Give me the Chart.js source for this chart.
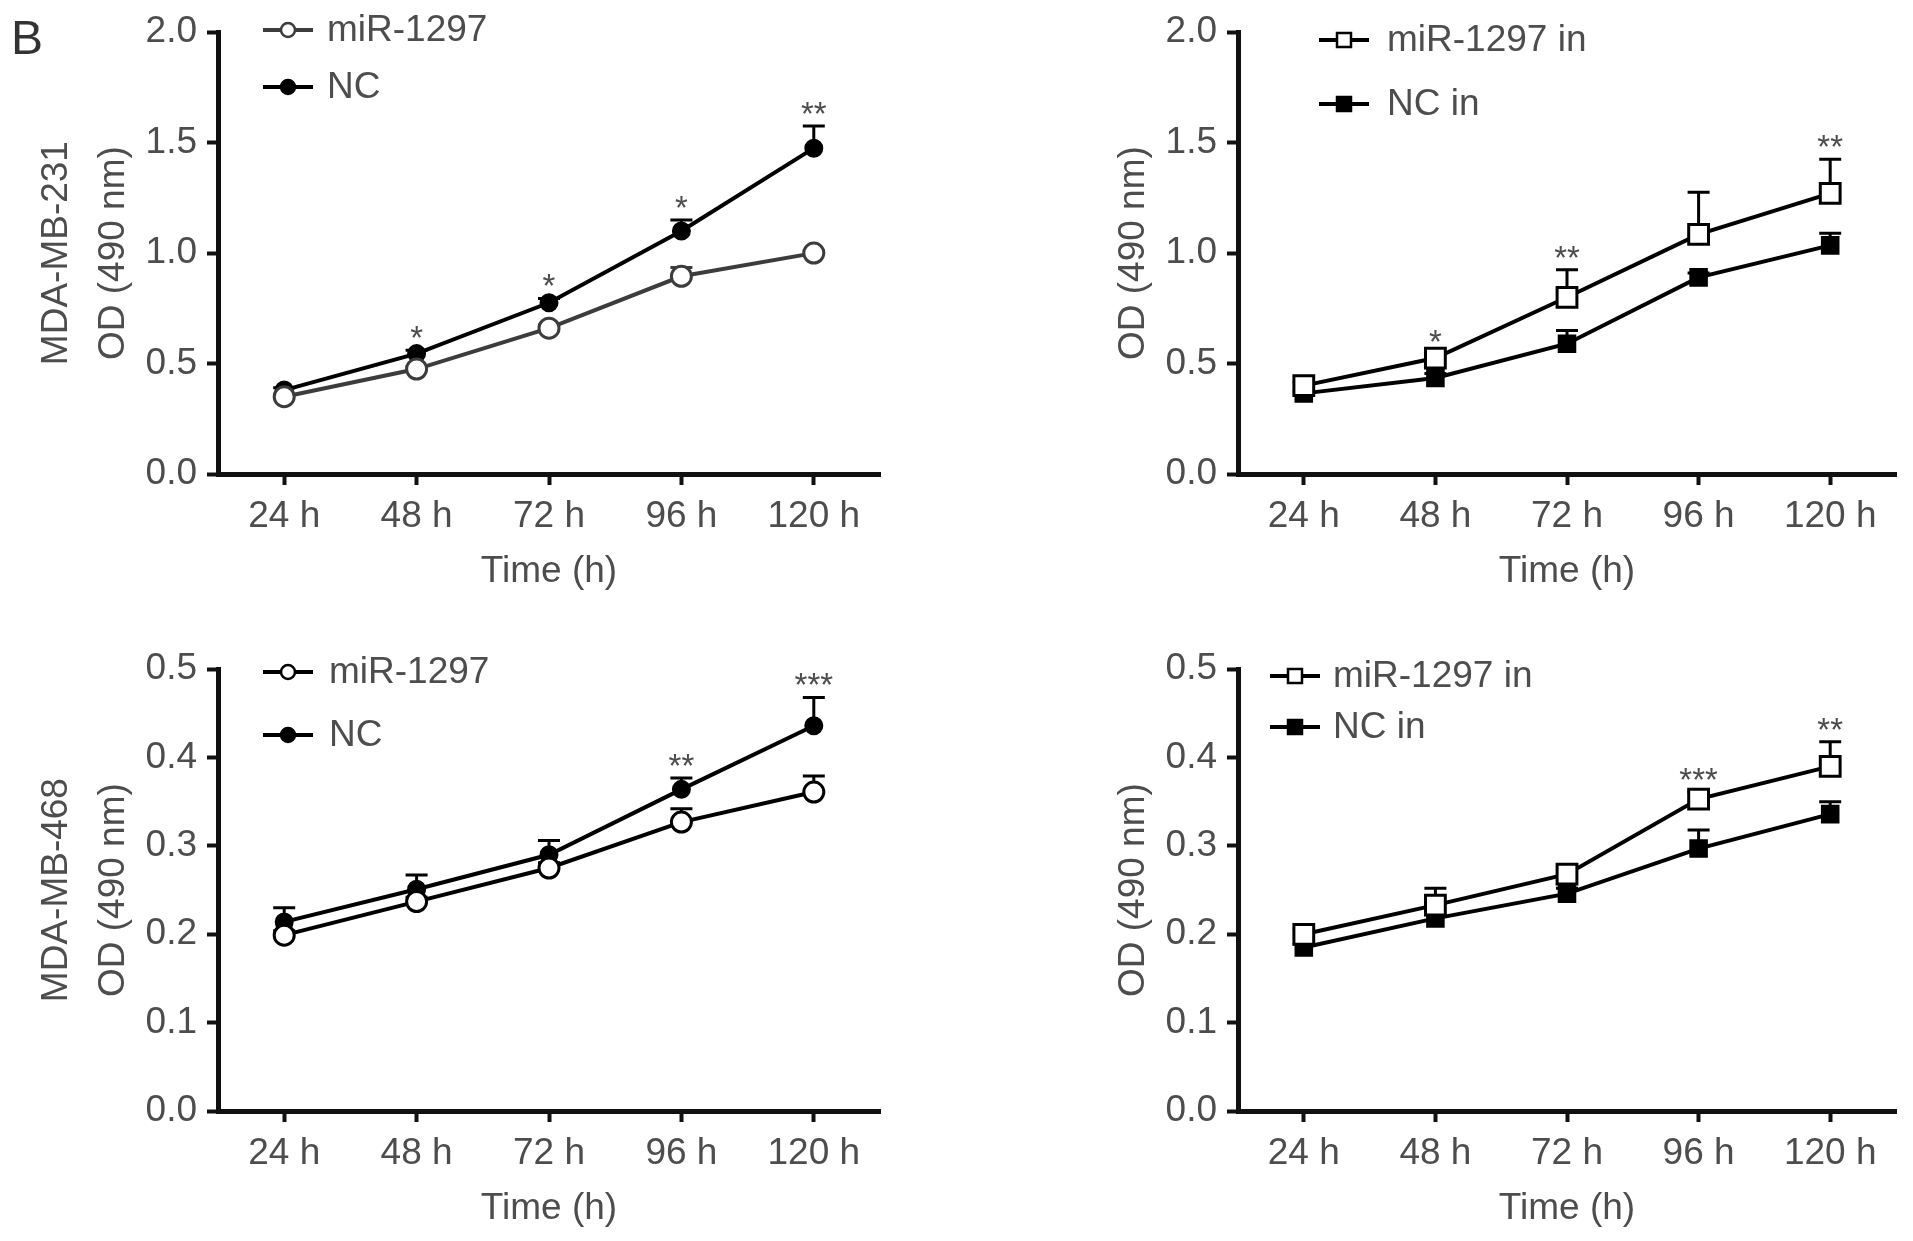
<!DOCTYPE html>
<html>
<head>
<meta charset="utf-8">
<script src="https://cdn.jsdelivr.net/npm/chart.js@4.4.1/dist/chart.umd.min.js"></script>
<style>
  html, body { margin: 0; padding: 0; background: #fff; overflow: hidden; width: 1913px; height: 1241px; }
  .panel { position: absolute; width: 893px; height: 604px; }
</style>
</head>
<body>
<div class="panel" style="left:0;top:0"><canvas id="c231" width="893" height="604"></canvas></div>
<div class="panel" style="left:1020px;top:0"><canvas id="c231in" width="893" height="604"></canvas></div>
<div class="panel" style="left:0;top:637px"><canvas id="c468" width="893" height="604"></canvas></div>
<div class="panel" style="left:1020px;top:637px"><canvas id="c468in" width="893" height="604"></canvas></div>
<script>
/* ── data ── */
const timeLabels = ['24 h', '48 h', '72 h', '96 h', '120 h'];

// MDA-MB-231, mimic vs NC
const mb231Mir    = [0.35, 0.475, 0.66, 0.895, 1.0];
const mb231MirErr = [0.01, 0.012, 0.015, 0.04, 0.012];
const mb231Nc     = [0.38, 0.545, 0.775, 1.10, 1.475];
const mb231NcErr  = [0.01, 0.015, 0.02, 0.05, 0.10];
const mb231Sig    = ['', '*', '*', '*', '**'];

// MDA-MB-231, inhibitor vs NC inhibitor
const mb231MirIn    = [0.40, 0.525, 0.80, 1.085, 1.27];
const mb231MirInErr = [0.015, 0.02, 0.125, 0.19, 0.155];
const mb231NcIn     = [0.365, 0.435, 0.59, 0.89, 1.035];
const mb231NcInErr  = [0.01, 0.02, 0.06, 0.02, 0.055];
const mb231InSig    = ['', '*', '**', '', '**'];

// MDA-MB-468, mimic vs NC
const mb468Mir    = [0.199, 0.237, 0.275, 0.327, 0.361];
const mb468MirErr = [0.005, 0.005, 0.006, 0.015, 0.018];
const mb468Nc     = [0.214, 0.251, 0.290, 0.364, 0.436];
const mb468NcErr  = [0.016, 0.016, 0.016, 0.013, 0.032];
const mb468Sig    = ['', '', '', '**', '***'];

// MDA-MB-468, inhibitor vs NC inhibitor
const mb468MirIn    = [0.200, 0.233, 0.268, 0.353, 0.390];
const mb468MirInErr = [0.006, 0.019, 0.007, 0.008, 0.028];
const mb468NcIn     = [0.185, 0.218, 0.246, 0.297, 0.336];
const mb468NcInErr  = [0.004, 0.005, 0.006, 0.021, 0.014];
const mb468InSig    = ['', '', '', '***', '**'];

const yTicksTop = [0, 0.5, 1.0, 1.5, 2.0];
const yTicksBottom = [0, 0.1, 0.2, 0.3, 0.4, 0.5];

/* ── styling ── */
const FONT = "'Liberation Sans', Arial, sans-serif";
const TEXT = '#4d4d4d';
const INK = '#111';
const FS = 37;

function series(label, data, err, style, color) {
  const open = style.indexOf('open') === 0;
  const square = style.indexOf('Square') > 0;
  const r = square ? (open ? 14 : 11) : (open ? 10 : 8);
  return {
    label, data, err,
    legendStyle: style,
    borderColor: color,
    borderWidth: 4,
    tension: 0,
    clip: false,
    pointStyle: square ? 'rect' : 'circle',
    pointRadius: r,
    pointHoverRadius: r,
    pointBorderWidth: 3,
    pointBorderColor: color,
    pointBackgroundColor: open ? '#fff' : color,
  };
}

function drawMarker(ctx, style, x, y, color) {
  ctx.save();
  ctx.lineWidth = 2.5;
  ctx.strokeStyle = color;
  ctx.fillStyle = style.indexOf('open') === 0 ? '#fff' : color;
  ctx.beginPath();
  if (style.indexOf('Square') > 0) ctx.rect(x - 7, y - 7, 14, 14);
  else ctx.arc(x, y, 7, 0, Math.PI * 2);
  ctx.fill();
  ctx.stroke();
  ctx.restore();
}

function decoPlugin(panel) {
  return {
    id: 'deco',
    beforeDatasetsDraw(chart) {
      const ctx = chart.ctx, ys = chart.scales.y;
      ctx.save();
      chart.data.datasets.forEach((ds, i) => {
        const meta = chart.getDatasetMeta(i);
        ctx.strokeStyle = ds.borderColor;
        ctx.lineWidth = 3;
        ds.data.forEach((v, j) => {
          const x = meta.data[j].x;
          const y0 = ys.getPixelForValue(v);
          const y1 = ys.getPixelForValue(v + ds.err[j]);
          ctx.beginPath();
          ctx.moveTo(x, y0); ctx.lineTo(x, y1);
          ctx.moveTo(x - 11, y1); ctx.lineTo(x + 11, y1);
          ctx.stroke();
        });
      });
      ctx.restore();
    },
    afterDraw(chart) {
      const ctx = chart.ctx, ys = chart.scales.y;
      ctx.save();
      // significance stars
      ctx.font = '33px ' + FONT;
      ctx.fillStyle = TEXT;
      ctx.textAlign = 'center';
      ctx.textBaseline = 'alphabetic';
      panel.sig.forEach((s, j) => {
        if (!s) return;
        let top = Infinity, x = 0;
        chart.data.datasets.forEach((ds, i) => {
          const p = chart.getDatasetMeta(i).data[j];
          x = p.x;
          top = Math.min(top, ys.getPixelForValue(ds.data[j] + ds.err[j]));
        });
        ctx.fillText(s, x, top - 1);
      });
      // legend
      const lg = panel.legend;
      ctx.font = FS + 'px ' + FONT;
      ctx.textAlign = 'left';
      ctx.textBaseline = 'middle';
      chart.data.datasets.forEach((ds, i) => {
        const y = lg.y[i];
        ctx.strokeStyle = ds.borderColor;
        ctx.lineWidth = 4;
        ctx.beginPath();
        ctx.moveTo(lg.x, y); ctx.lineTo(lg.x + 50, y);
        ctx.stroke();
        drawMarker(ctx, ds.legendStyle, lg.x + 25, y, ds.borderColor);
        ctx.fillStyle = TEXT;
        ctx.fillText(ds.label, lg.x + lg.gap, y + 1);
      });
      // panel letter
      if (panel.letter) {
        ctx.font = '48px ' + FONT;
        ctx.fillStyle = '#333';
        ctx.textBaseline = 'alphabetic';
        ctx.fillText(panel.letter, 11, 54);
      }
      ctx.restore();
    }
  };
}

function makePanel(canvasId, panel) {
  const ctx = document.getElementById(canvasId);
  return new Chart(ctx, {
    type: 'line',
    data: { labels: timeLabels, datasets: panel.datasets },
    options: {
      responsive: false,
      animation: false,
      events: [],
      layout: { padding: { top: 29, right: 7, bottom: 0, left: 0 } },
      plugins: { legend: { display: false }, tooltip: { enabled: false } },
      scales: {
        x: {
          type: 'category',
          offset: true,
          ticks: { color: TEXT, font: { family: FONT, size: FS }, padding: 10, maxRotation: 0, autoSkip: false },
          grid: { offset: false, drawOnChartArea: false, drawTicks: true, tickLength: 11, tickWidth: 4, tickColor: INK },
          border: { display: true, color: INK, width: 5 },
          title: { display: true, text: 'Time (h)', color: TEXT, font: { family: FONT, size: FS }, padding: { top: 0, bottom: 10 } },
          afterFit(s) { s.height = 130; }
        },
        y: {
          min: 0,
          max: panel.ticks[panel.ticks.length - 1],
          afterBuildTicks(s) { s.ticks = panel.ticks.map(v => ({ value: v })); },
          ticks: { color: TEXT, font: { family: FONT, size: FS }, padding: 10, callback: v => Number(v).toFixed(1) },
          grid: { drawOnChartArea: false, drawTicks: true, tickLength: 11, tickWidth: 4, tickColor: INK },
          border: { display: true, color: INK, width: 5 },
          title: { display: true, text: panel.yTitle, color: TEXT, font: { family: FONT, size: FS, lineHeight: 1.55 }, padding: { top: panel.titlePad, bottom: 0 } },
          afterFit(s) { s.width = 218; }
        }
      }
    },
    plugins: [decoPlugin(panel)]
  });
}

makePanel('c231', {
  letter: 'B',
  ticks: yTicksTop,
  yTitle: ['MDA-MB-231', 'OD (490 nm)'],
  titlePad: 28,
  sig: mb231Sig,
  legend: { x: 263, y: [30, 87], gap: 64 },
  datasets: [
    series('miR-1297', mb231Mir, mb231MirErr, 'openCircle', '#3c3c3c'),
    series('NC', mb231Nc, mb231NcErr, 'fillCircle', '#000')
  ]
});

makePanel('c231in', {
  ticks: yTicksTop,
  yTitle: 'OD (490 nm)',
  titlePad: 85,
  sig: mb231InSig,
  legend: { x: 299, y: [40, 104], gap: 68 },
  datasets: [
    series('miR-1297 in', mb231MirIn, mb231MirInErr, 'openSquare', '#000'),
    series('NC in', mb231NcIn, mb231NcInErr, 'fillSquare', '#000')
  ]
});

makePanel('c468', {
  ticks: yTicksBottom,
  yTitle: ['MDA-MB-468', 'OD (490 nm)'],
  titlePad: 28,
  sig: mb468Sig,
  legend: { x: 263, y: [35, 98], gap: 66 },
  datasets: [
    series('miR-1297', mb468Mir, mb468MirErr, 'openCircle', '#000'),
    series('NC', mb468Nc, mb468NcErr, 'fillCircle', '#000')
  ]
});

makePanel('c468in', {
  ticks: yTicksBottom,
  yTitle: 'OD (490 nm)',
  titlePad: 85,
  sig: mb468InSig,
  legend: { x: 250, y: [39, 90], gap: 63 },
  datasets: [
    series('miR-1297 in', mb468MirIn, mb468MirInErr, 'openSquare', '#000'),
    series('NC in', mb468NcIn, mb468NcInErr, 'fillSquare', '#000')
  ]
});
</script>
</body>
</html>
